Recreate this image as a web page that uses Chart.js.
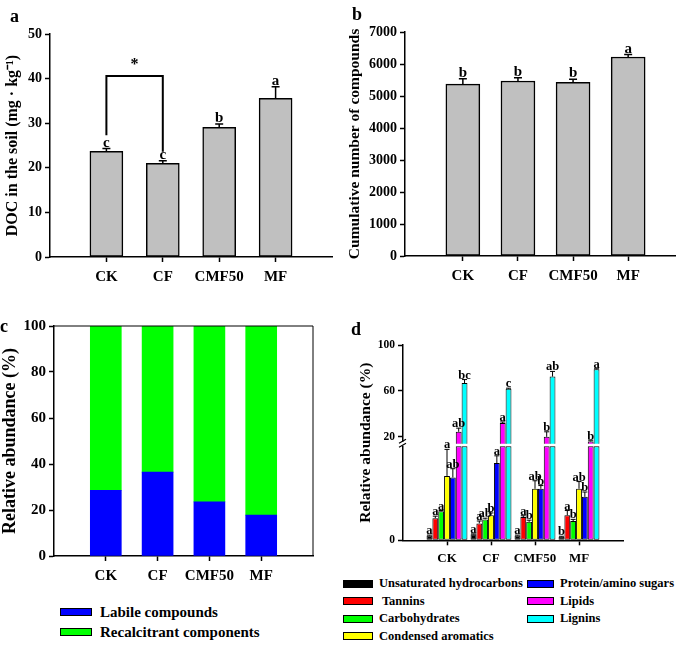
<!DOCTYPE html>
<html>
<head>
<meta charset="utf-8">
<title>DOC and DOM composition</title>
<script src="https://cdn.jsdelivr.net/npm/chart.js@4.4.1/dist/chart.umd.min.js"></script>
<style>
  html, body { margin: 0; padding: 0; background: #fff; }
  #fig { position: relative; width: 685px; height: 646px; overflow: hidden;
         font-family: "Liberation Serif", "Times New Roman", serif; font-weight: bold; color: #000; }
  #fig canvas { position: absolute; display: block; }
  .tag { position: absolute; font-size: 18px; line-height: 18px; }
  .key { position: absolute; display: flex; align-items: center; white-space: pre; }
  .key i { display: inline-block; box-sizing: border-box; border: 1px solid #000; }
</style>
</head>
<body>
<div id="fig">
  <canvas id="docChart" width="340" height="300" style="left:0;top:0"></canvas>
  <canvas id="countChart" width="345" height="300" style="left:340px;top:0"></canvas>
  <canvas id="poolChart" width="340" height="290" style="left:0;top:310px"></canvas>
  <canvas id="classChart" width="345" height="255" style="left:340px;top:320px"></canvas>
  <div class="tag" style="left:10px;top:7px">a</div>
  <div class="tag" style="left:352px;top:5px">b</div>
  <div class="tag" style="left:0;top:317px">c</div>
  <div class="tag" style="left:351px;top:320px">d</div>
</div>
<script>
// treatments
const categories = ['CK', 'CF', 'CMF50', 'MF'];

// a - DOC in the soil
const docValues = [23.7, 21.0, 29.1, 35.6];
const docErrors = [0.6, 0.6, 0.7, 2.6];
const docLetters = ['c', 'c', 'b', 'a'];
const docTicks = [0, 10, 20, 30, 40, 50];
// CK vs CF significance bracket (values in mg/kg)
const bracketLevel = 40.6;
const bracketEnds = [27.3, 23.6];
const bracketStarAt = 43;

// b - cumulative number of compounds
const countValues = [5370, 5470, 5430, 6220];
const countErrors = [170, 100, 90, 75];
const countLetters = ['b', 'b', 'b', 'a'];
const countTicks = [0, 1000, 2000, 3000, 4000, 5000, 6000, 7000];

// c - labile vs recalcitrant
const poolNames = ['Labile compounds', 'Recalcitrant components'];
const poolColors = ['#0000ff', '#00ff00'];
const labileValues = [28.6, 36.5, 23.5, 17.8];
const recalcitrantValues = [71.4, 63.5, 76.5, 82.2];
const poolTicks = [0, 20, 40, 60, 80, 100];

// d - compound classes (broken axis)
const classNames = ['Unsaturated hydrocarbons', ' Tannins', 'Carbohydrates', 'Condensed aromatics',
                    'Protein/amino sugars', 'Lipids', 'Lignins'];
const classColors = ['#000000', '#ff0000', '#00ff00', '#ffff00', '#0000ff', '#ff00ff', '#00ffff'];
const hydrocarbonValues = [0.6, 0.75, 0.6, 0.45];
const hydrocarbonErrors = [0.05, 0.05, 0.05, 0.05];
const hydrocarbonLetters = ['a', 'a', 'a', 'b'];
const tanninValues = [2.75, 2.1, 2.9, 3.1];
const tanninErrors = [0.25, 0.3, 0.15, 0.6];
const tanninLetters = ['a', 'a', 'a', 'a'];
const carbohydrateValues = [3.6, 2.6, 2.3, 2.4];
const carbohydrateErrors = [0.1, 0.15, 0.2, 0.2];
const carbohydrateLetters = ['a', 'ab', 'b', 'b'];
const aromaticValues = [8.0, 3.1, 6.4, 6.4];
const aromaticErrors = [3.3, 0.3, 1.0, 0.9];
const aromaticLetters = ['a', 'b', 'ab', 'ab'];
const proteinValues = [7.8, 9.6, 6.4, 5.4];
const proteinErrors = [1.1, 0.9, 0.4, 0.6];
const proteinLetters = ['ab', 'a', 'b', 'b'];
const lipidValues = [24.4, 32.0, 20.0, 16.0];
const lipidErrors = [3.2, 1.0, 4.4, 0.6];
const lipidLetters = ['ab', 'a', 'b', 'b'];
const ligninValues = [66.9, 61.9, 72.5, 78.9];
const ligninErrors = [3.0, 0.5, 4.5, 0.4];
const ligninLetters = ['bc', 'c', 'ab', 'a'];
const lowerTicks = [0];
const upperTicks = [20, 40, 60, 80, 100];
const lowerMax = 12;   // top of the lower segment
const upperMin = 14;   // bottom of the upper segment

const classValues = [hydrocarbonValues, tanninValues, carbohydrateValues, aromaticValues, proteinValues, lipidValues, ligninValues];
const classErrors = [hydrocarbonErrors, tanninErrors, carbohydrateErrors, aromaticErrors, proteinErrors, lipidErrors, ligninErrors];
const classLetters = [hydrocarbonLetters, tanninLetters, carbohydrateLetters, aromaticLetters, proteinLetters, lipidLetters, ligninLetters];

Chart.defaults.font.family = "'Liberation Serif', 'Times New Roman', serif";
Chart.defaults.font.weight = 'bold';
Chart.defaults.color = '#000';

function points(values) {
    return values.map((v, i) => ({ x: i + 1, y: v }));
}

// x axis: treatments at 1..4 on a linear scale
function treatmentAxis(min, max, fontSize, height) {
    return {
        type: 'linear',
        offset: false,
        min: min,
        max: max,
        afterBuildTicks: (scale) => { scale.ticks = categories.map((c, i) => ({ value: i + 1 })); },
        afterFit: (scale) => { scale.height = height; },
        ticks: { callback: (v) => categories[v - 1], font: { size: fontSize }, color: '#000',
                 autoSkip: false, maxRotation: 0, padding: 6 },
        grid: { drawOnChartArea: false, offset: false, tickLength: 5, tickColor: '#000', tickWidth: 1.5 },
        border: { color: '#000', width: 1.5 }
    };
}

function valueAxis(tickValues, min, max, width, fontSize) {
    return {
        position: 'left',
        min: min,
        max: max,
        afterBuildTicks: (scale) => { scale.ticks = tickValues.map((v) => ({ value: v })); },
        afterFit: (scale) => { scale.width = width; },
        ticks: { callback: (v) => String(v), font: { size: fontSize }, color: '#000', padding: 3 },
        grid: { drawOnChartArea: false, tickLength: 5, tickColor: '#000', tickWidth: 1.5 },
        border: { color: '#000', width: 1.5 }
    };
}

function axisTitle(text, size, pad) {
    return { display: true, text: text, color: '#000', font: { size: size }, padding: { top: pad, bottom: 0 } };
}

// error bars (upper half) and the significance letters above them
const errorBars = {
    id: 'errorBars',
    afterDatasetsDraw(chart, args, opts) {
        const ctx = chart.ctx;
        ctx.save();
        ctx.strokeStyle = '#000';
        ctx.fillStyle = '#000';
        ctx.lineWidth = opts.lineWidth;
        ctx.font = 'bold ' + opts.fontSize + "px 'Liberation Serif'";
        ctx.textAlign = 'center';
        ctx.textBaseline = 'alphabetic';
        chart.data.datasets.forEach((ds, i) => {
            if (!ds.errors) return;
            const meta = chart.getDatasetMeta(i);
            const yScale = chart.scales[meta.yAxisID];
            meta.data.forEach((bar, j) => {
                const top = yScale.getPixelForValue(ds.data[j].y + ds.errors[j]);
                ctx.beginPath();
                ctx.moveTo(bar.x, bar.y);
                ctx.lineTo(bar.x, top);
                ctx.moveTo(bar.x - opts.cap / 2, top);
                ctx.lineTo(bar.x + opts.cap / 2, top);
                ctx.stroke();
                if (ds.letters) ctx.fillText(ds.letters[j], bar.x, top - opts.gap);
            });
        });
        ctx.restore();
    }
};

const bracket = {
    id: 'bracket',
    afterDatasetsDraw(chart) {
        const ctx = chart.ctx;
        const y = chart.scales.y;
        const bars = chart.getDatasetMeta(0).data;
        const x1 = bars[0].x, x2 = bars[1].x;
        const top = y.getPixelForValue(bracketLevel);
        ctx.save();
        ctx.strokeStyle = '#000';
        ctx.lineWidth = 2;
        ctx.beginPath();
        ctx.moveTo(x1, y.getPixelForValue(bracketEnds[0]));
        ctx.lineTo(x1, top);
        ctx.lineTo(x2, top);
        ctx.lineTo(x2, y.getPixelForValue(bracketEnds[1]));
        ctx.stroke();
        ctx.fillStyle = '#000';
        ctx.font = "bold 16px 'Liberation Serif'";
        ctx.textAlign = 'center';
        ctx.textBaseline = 'middle';
        ctx.fillText('*', (x1 + x2) / 2, y.getPixelForValue(bracketStarAt));
        ctx.restore();
    }
};

const frame = {
    id: 'frame',
    afterDraw(chart) {
        const a = chart.chartArea;
        const ctx = chart.ctx;
        ctx.save();
        ctx.strokeStyle = '#000';
        ctx.lineWidth = 1;
        ctx.beginPath();
        ctx.moveTo(a.left, a.top);
        ctx.lineTo(a.right, a.top);
        ctx.lineTo(a.right, a.bottom);
        ctx.stroke();
        ctx.restore();
    }
};

const axisBreak = {
    id: 'axisBreak',
    afterDraw(chart) {
        const ctx = chart.ctx;
        const x = chart.chartArea.left;
        const y = chart.scales.yLow.top;
        ctx.save();
        ctx.fillStyle = '#fff';
        ctx.fillRect(x - 2, y - 2, 4, 4);
        ctx.strokeStyle = '#000';
        ctx.lineWidth = 1.2;
        ctx.beginPath();
        ctx.moveTo(x - 4, y - 0.5); ctx.lineTo(x + 3, y - 4.5);
        ctx.moveTo(x - 4, y + 3.5); ctx.lineTo(x + 3, y - 0.5);
        ctx.stroke();
        ctx.restore();
    }
};

const common = {
    responsive: false,
    animation: false,
    events: [],
    plugins: { legend: { display: false }, tooltip: { enabled: false } }
};

// ---- a ----
new Chart(document.getElementById('docChart'), {
    type: 'bar',
    data: { datasets: [{
        data: points(docValues), errors: docErrors, letters: docLetters,
        backgroundColor: '#c0c0c0', borderColor: '#000', borderWidth: 1.5, borderSkipped: false,
        barThickness: 33
    }] },
    options: Object.assign({}, common, {
        layout: { padding: { top: 34, right: 8, left: 0, bottom: 0 } },
        plugins: Object.assign({}, common.plugins, { errorBars: { lineWidth: 1.5, cap: 8, fontSize: 15, gap: 2 } }),
        scales: {
            x: treatmentAxis(0, 5, 15, 43),
            y: Object.assign(valueAxis(docTicks, 0, 50, 50, 14), { title: axisTitle('DOC in the soil (mg · kg⁻¹)', 16, 3) })
        }
    }),
    plugins: [errorBars, bracket]
});

// ---- b ----
new Chart(document.getElementById('countChart'), {
    type: 'bar',
    data: { datasets: [{
        data: points(countValues), errors: countErrors, letters: countLetters,
        backgroundColor: '#c0c0c0', borderColor: '#000', borderWidth: 1.5, borderSkipped: false,
        barThickness: 34
    }] },
    options: Object.assign({}, common, {
        layout: { padding: { top: 32, right: 10, left: 0, bottom: 0 } },
        plugins: Object.assign({}, common.plugins, { errorBars: { lineWidth: 1.5, cap: 8, fontSize: 15, gap: 2 } }),
        scales: {
            x: treatmentAxis(-0.05, 4.85, 15, 44),
            y: Object.assign(valueAxis(countTicks, 0, 7000, 65, 14), { title: axisTitle('Cumulative number of compounds', 15.5, 6) })
        }
    }),
    plugins: [errorBars]
});

// ---- c ----
new Chart(document.getElementById('poolChart'), {
    type: 'bar',
    data: { datasets: [
        { data: points(labileValues), backgroundColor: poolColors[0], borderWidth: 0, barThickness: 31 },
        { data: points(recalcitrantValues), backgroundColor: poolColors[1], borderWidth: 0, barThickness: 31 }
    ] },
    options: Object.assign({}, common, {
        layout: { padding: { top: 16, right: 27, left: 0, bottom: 0 } },
        scales: {
            x: Object.assign(treatmentAxis(0, 5, 15, 44), { stacked: true }),
            y: Object.assign(valueAxis(poolTicks, 0, 100, 54, 15), { stacked: true, title: axisTitle('Relative abundance (%)', 18, 0) })
        }
    }),
    plugins: [frame]
});

// ---- d ----
const classDatasets = [];
const upperDatasets = [];
classNames.forEach((name, k) => {
    const values = classValues[k];
    const split = values.some((v) => v > lowerMax);
    const stack = 'class' + k;
    const style = { backgroundColor: classColors[k], borderColor: '#000', borderWidth: 1, borderSkipped: false,
                    barPercentage: 1, categoryPercentage: 0.93, stack: stack };
    classDatasets.push(Object.assign({
        label: name, yAxisID: 'yLow',
        data: points(values.map((v) => Math.min(v, lowerMax - 0.3))),
        errors: split ? null : classErrors[k], letters: split ? null : classLetters[k]
    }, style));
    if (split) {
        upperDatasets.push(Object.assign({
            label: name, yAxisID: 'yHigh', data: points(values),
            errors: classErrors[k], letters: classLetters[k]
        }, style));
    }
});

new Chart(document.getElementById('classChart'), {
    type: 'bar',
    data: { datasets: classDatasets.concat(upperDatasets) },
    options: Object.assign({}, common, {
        layout: { padding: { top: 25, right: 62, left: 0, bottom: 0 } },
        plugins: Object.assign({}, common.plugins, { errorBars: { lineWidth: 1, cap: 5, fontSize: 12.5, gap: 1 } }),
        scales: {
            x: treatmentAxis(0, 5, 13, 34.7),
            yTitle: {
                position: 'left', weight: 1,
                afterFit: (scale) => { scale.width = 38; },
                ticks: { display: false }, grid: { display: false }, border: { display: false },
                title: axisTitle('Relative abundance (%)', 15.5, 17)
            },
            yHigh: Object.assign(valueAxis(upperTicks, upperMin, 100, 25, 11.5),
                                 { stack: 'abundance', stackWeight: 98.5, weight: 0.2, stacked: false }),
            yLow: Object.assign(valueAxis(lowerTicks, 0, lowerMax, 25, 11.5),
                                { stack: 'abundance', stackWeight: 96.3, weight: 0.1, stacked: false })
        }
    }),
    plugins: [errorBars, axisBreak]
});

// ---- legends ----
const fig = document.getElementById('fig');
function addKey(left, top, color, text, fontSize, swatchW, swatchH, gap) {
    const key = document.createElement('div');
    key.className = 'key';
    key.style.left = left + 'px';
    key.style.top = top + 'px';
    key.style.fontSize = fontSize + 'px';
    key.style.height = '16px';
    const sw = document.createElement('i');
    sw.style.width = swatchW + 'px';
    sw.style.height = swatchH + 'px';
    sw.style.background = color;
    sw.style.marginRight = gap + 'px';
    key.appendChild(sw);
    key.appendChild(document.createTextNode(text));
    fig.appendChild(key);
}

poolNames.forEach((name, i) => {
    addKey(60, 604 + i * 20, poolColors[i], name, 15, 32, 8, 8);
});

classNames.forEach((name, i) => {
    const col = i < 4 ? 0 : 1;
    const row = col === 0 ? i : i - 4;
    addKey(col === 0 ? 343 : 527, 575.5 + row * 17.5, classColors[i], name, 12.5, col === 0 ? 30 : 27, 8, 6);
});
</script>
</body>
</html>
